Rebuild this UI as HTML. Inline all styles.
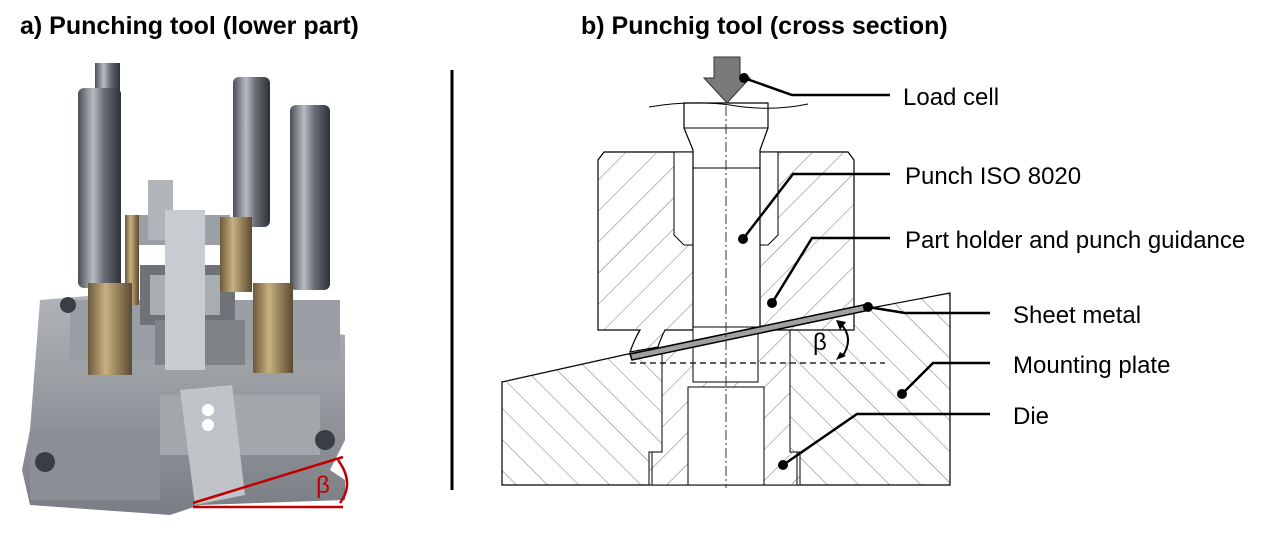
<!DOCTYPE html>
<html><head><meta charset="utf-8"><style>
html,body{margin:0;padding:0;background:#fff;}
body{width:1276px;height:533px;overflow:hidden;position:relative;font-family:"Liberation Sans",Arial,sans-serif;}
.t{position:absolute;font-size:24px;color:#000;white-space:nowrap;line-height:28px;}
.b{font-weight:bold;font-size:25px;}
</style></head><body>
<svg width="1276" height="533" style="position:absolute;left:0;top:0">
<defs>
<pattern id="h1" patternUnits="userSpaceOnUse" width="22" height="22" patternTransform="rotate(45)">
<line x1="0" y1="0" x2="0" y2="22" stroke="#555" stroke-width="0.8"/></pattern>
<pattern id="h2" patternUnits="userSpaceOnUse" width="22" height="22" patternTransform="rotate(-45)">
<line x1="0" y1="0" x2="0" y2="22" stroke="#555" stroke-width="0.8"/></pattern>
<linearGradient id="rod" x1="0" x2="1"><stop offset="0" stop-color="#4a4f57"/><stop offset="0.35" stop-color="#b8bcc2"/><stop offset="0.6" stop-color="#6a6f77"/><stop offset="1" stop-color="#2e3238"/></linearGradient>
<linearGradient id="br" x1="0" x2="1"><stop offset="0" stop-color="#6b5a3a"/><stop offset="0.4" stop-color="#c8b080"/><stop offset="1" stop-color="#5a4a30"/></linearGradient>
<linearGradient id="pl" x1="0" x2="0" y1="0" y2="1"><stop offset="0" stop-color="#b0b4b8"/><stop offset="1" stop-color="#7a7e84"/></linearGradient>
</defs>
<polygon points="40,300 100,295 110,340 150,350 300,345 310,330 345,335 345,440 330,470 345,480 345,500 200,505 170,515 30,505 22,470 30,430" fill="url(#pl)"/>
<rect x="30" y="430" width="130" height="70" fill="#8c9096"/>
<rect x="160" y="395" width="160" height="60" fill="#a3a7ab"/>
<rect x="70" y="300" width="270" height="60" fill="#9a9ea4"/>
<circle cx="45" cy="462" r="10" fill="#3a3d42"/><circle cx="325" cy="440" r="10" fill="#3a3d42"/><circle cx="68" cy="305" r="8" fill="#3a3d42"/>
<rect x="135" y="215" width="95" height="30" fill="#9aa0a6"/>
<rect x="140" y="265" width="95" height="60" fill="#6f7378"/>
<rect x="150" y="275" width="70" height="40" fill="#a8adb2"/>
<rect x="155" y="320" width="90" height="45" fill="#7f8388"/>
<rect x="148" y="180" width="25" height="60" fill="#b0b5ba"/>
<rect x="165" y="210" width="40" height="160" fill="#c8ccd0"/>
<polygon points="180,390 232,385 245,495 195,505" fill="#c0c4c8"/>
<circle cx="208" cy="410" r="6" fill="#fff"/><circle cx="208" cy="425" r="6" fill="#fff"/>
<rect x="95" y="63" width="25" height="170" fill="url(#rod)"/>
<rect x="125" y="215" width="14" height="90" fill="url(#br)"/>
<rect x="78" y="88" width="43" height="200" rx="6" fill="url(#rod)"/>
<rect x="88" y="283" width="44" height="92" fill="url(#br)"/>
<rect x="233" y="77" width="37" height="150" rx="6" fill="url(#rod)"/>
<rect x="220" y="217" width="32" height="75" fill="url(#br)"/>
<rect x="290" y="105" width="40" height="185" rx="6" fill="url(#rod)"/>
<rect x="253" y="283" width="40" height="90" fill="url(#br)"/>
<line x1="193" y1="503" x2="343" y2="457" stroke="#c00000" stroke-width="2.5"/>
<line x1="193" y1="507" x2="343" y2="507" stroke="#c00000" stroke-width="2.5"/>
<path d="M338,460 Q355,483 340,503" fill="none" stroke="#c00000" stroke-width="2.5"/>
<line x1="452" y1="70" x2="452" y2="490" stroke="#000" stroke-width="3"/>
<polygon points="502,382 628,354 950,293 950,485 502,485" fill="#fff"/>
<polygon points="502,382 628,354 950,293 950,485 502,485" fill="url(#h2)" stroke="#000" stroke-width="1.2"/>
<polygon points="662,350 790,326 790,452 800,452 800,485 649,485 649,452 662,452" fill="#fff" stroke="#000" stroke-width="1"/>
<polygon points="662,350 790,326 790,452 800,452 800,485 649,485 649,452 662,452" fill="url(#h1)"/>
<rect x="688" y="387" width="76" height="98" fill="#fff" stroke="#000" stroke-width="1"/>
<line x1="652" y1="452" x2="652" y2="485" stroke="#000"/><line x1="797" y1="452" x2="797" y2="485" stroke="#000"/>
<path d="M604,152 L848,152 L854,160 L854,330 L665,330 Q660,340 658,347 L630,352 Q635,338 640,330 L598,330 L598,160 Z" fill="#fff" stroke="#000" stroke-width="1.2"/>
<path d="M604,152 L848,152 L854,160 L854,330 L665,330 Q660,340 658,347 L630,352 Q635,338 640,330 L598,330 L598,160 Z" fill="url(#h1)"/>
<polygon points="674,152 778,152 778,235 768,245 758,245 758,330 693,330 693,245 684,245 674,235" fill="#fff" stroke="#000" stroke-width="1"/>
<path d="M684,103 L768,103 L768,128 L760,150 L760,330 L693,330 L693,150 L684,128 Z" fill="#fff" stroke="#000" stroke-width="1.2"/>
<line x1="684" y1="128" x2="768" y2="128" stroke="#000"/>
<line x1="693" y1="168" x2="760" y2="168" stroke="#000"/>
<rect x="693" y="327" width="65" height="55" fill="#fff" stroke="#000" stroke-width="1"/>
<path d="M649,107 Q690,100 730,105 Q770,112 808,104" fill="none" stroke="#000" stroke-width="1"/>
<polygon points="630,354 868,304 870,310 632,360" fill="#a0a0a0" stroke="#000" stroke-width="1.5"/>
<line x1="630" y1="363" x2="885" y2="363" stroke="#000" stroke-width="1.3" stroke-dasharray="6,4"/>
<line x1="726" y1="70" x2="726" y2="488" stroke="#333" stroke-width="1" stroke-dasharray="10,3,2,3"/>
<polygon points="714,57 740,57 740,78 750,78 727,103 704,78 714,78" fill="#7a7a7a" stroke="#333" stroke-width="1"/>
<path d="M840,323 Q855,338 842,357" fill="none" stroke="#000" stroke-width="2"/>
<polygon points="836,320 846,322 840,330" fill="#000"/><polygon points="836,360 846,356 840,352" fill="#000"/>
<g stroke="#000" stroke-width="2.5" fill="none">
<polyline points="744,78 792,95 890,95"/>
<polyline points="743,239 793,174 890,174"/>
<polyline points="772,303 812,238 890,238"/>
<polyline points="868,307 905,313 990,313"/>
<polyline points="902,394 933,363 990,363"/>
<polyline points="783,465 857,414 990,414"/>
</g>
<g fill="#000"><circle cx="744" cy="78" r="5"/><circle cx="743" cy="239" r="5"/><circle cx="772" cy="303" r="5"/><circle cx="868" cy="307" r="5"/><circle cx="902" cy="394" r="5"/><circle cx="783" cy="465" r="5"/></g>
</svg>
<div class="t b" style="left:20px;top:12px">a) Punching tool (lower part)</div>
<div class="t b" style="left:581px;top:12px">b) Punchig tool (cross section)</div>
<div class="t" style="left:903px;top:84px">Load cell</div>
<div class="t" style="left:905px;top:163px">Punch ISO 8020</div>
<div class="t" style="left:905px;top:227px">Part holder and punch guidance</div>
<div class="t" style="left:1013px;top:302px">Sheet metal</div>
<div class="t" style="left:1013px;top:352px">Mounting plate</div>
<div class="t" style="left:1013px;top:403px">Die</div>
<div class="t" style="left:813px;top:329px">β</div>
<div class="t" style="left:316px;top:472px;color:#c00000">β</div>
</body></html>
